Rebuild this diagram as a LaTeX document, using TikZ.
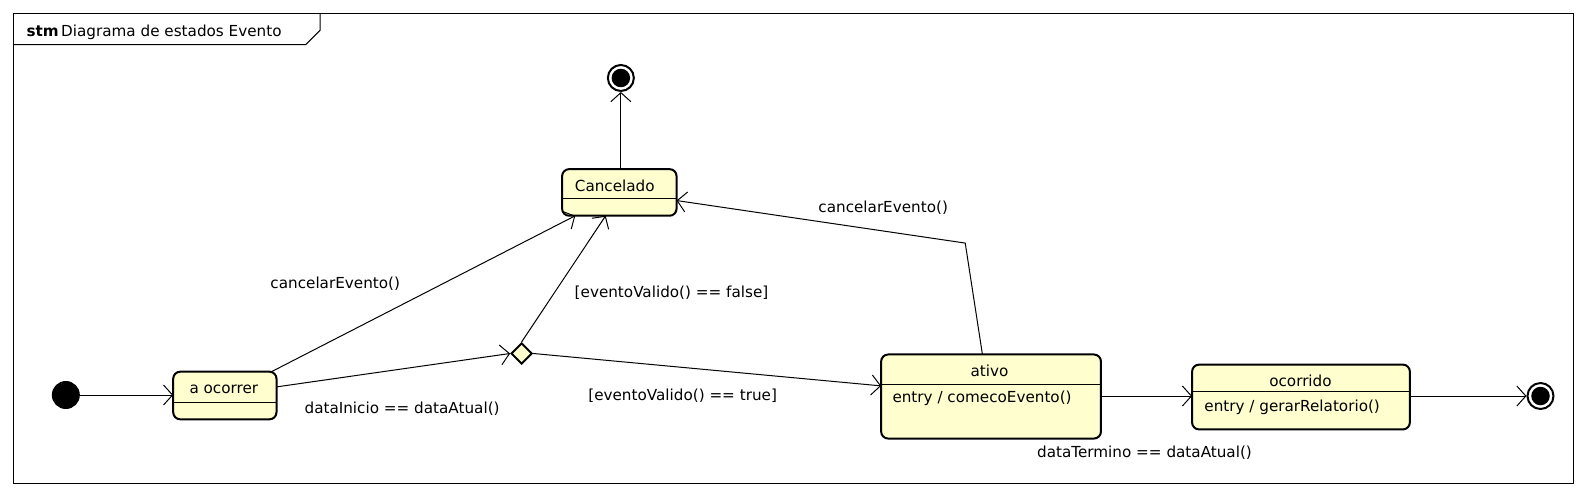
\documentclass[tikz,border=0pt]{standalone}
\usepackage{fontspec}
\setmainfont{DejaVu Sans}
\usetikzlibrary{arrows.meta,shapes.geometric,calc}
\definecolor{statefill}{HTML}{FEFECE}
\tikzset{
  stbox/.style={draw, line width=2pt, rounded corners=7pt, fill=statefill},
  tr/.style={line width=1pt, -{Straight Barb[length=9pt,width=20pt,line width=1pt]}},
  lbl/.style={font=\fontsize{15.2}{17}\selectfont, inner sep=0pt},
  txt/.style={font=\fontsize{15.2}{17}\selectfont, inner sep=0pt},
}
\begin{document}
\begin{tikzpicture}[x=1.0128pt,y=-1.0128pt]
\useasboundingbox (0,0) rectangle (1567.9,487.75);
% frame
\draw[line width=1pt] (13,13) rectangle (1554,477);
\draw[line width=1pt] (13,44) -- (302,44) -- (316,30) -- (316,13);
\node[txt, anchor=base west] (title) at (26,36) {\textbf{stm}\,Diagrama de estados Evento};

% initial
\node[circle, fill=black, minimum size=28pt, inner sep=0pt] (init) at (65,390) {};
% a ocorrer
\draw[stbox] (171,367) rectangle (273,414);
\draw[line width=1pt] (171,397) -- (273,397);
\node[txt] (aoc) at (221,384) {a ocorrer};
\coordinate (aocW) at (171,390);
% Cancelado
\draw[stbox] (555,167) rectangle (668,213);
\draw[line width=1pt] (555,196) -- (668,196);
\node[txt] (canc) at (607,183) {Cancelado};
% top final
\node[circle, draw, line width=2pt, minimum size=26pt, inner sep=0pt] (fin1) at (613,77) {};
\node[circle, fill=black, minimum size=18.5pt, inner sep=0pt] at (613,77) {};
% diamond
\node[diamond, draw, line width=2pt, fill=statefill, minimum size=21pt, inner sep=0pt] (dec) at (515,349) {};
% ativo
\draw[stbox] (870,350) rectangle (1087,433);
\draw[line width=1pt] (870,380) -- (1087,380);
\node[txt] (ativo) at (977,366) {ativo};
\node[txt, anchor=west] (ativoe) at (881,393) {entry / comecoEvento()};
% ocorrido
\draw[stbox] (1177,360) rectangle (1392,424);
\draw[line width=1pt] (1177,387) -- (1392,387);
\node[txt] (ocor) at (1284,376) {ocorrido};
\node[txt, anchor=west] (ocore) at (1189,402) {entry / gerarRelatorio()};
% final right
\node[circle, draw, line width=2pt, minimum size=26pt, inner sep=0pt] (fin2) at (1521,391) {};
\node[circle, fill=black, minimum size=18.5pt, inner sep=0pt] at (1521,391) {};

% coordinates for connector ends
\coordinate (aocTop) at (268,367);
\coordinate (aocE) at (273,382);
\coordinate (cancBL) at (568,213);
\coordinate (cancB) at (598,213);
\coordinate (cancT) at (613,167);
\coordinate (cancE) at (668,198);
\coordinate (ativoW) at (870,381);
\coordinate (ativoT) at (970,350);
\coordinate (bend) at (953,240);
\coordinate (ativoE) at (1087,391);
\coordinate (ocorW) at (1177,391);
\coordinate (ocorE) at (1392,391);

% transitions
\draw[tr] (init) -- (aocW);
\draw[tr] (aocTop) -- (cancBL);
\draw[tr] (aocE) -- (dec.west);
\draw[tr] (dec.north) -- (cancB);
\draw[tr] (dec.east) -- (ativoW);
\draw[tr] (ativoT) -- (bend) -- (cancE);
\draw[tr] (cancT) -- (fin1.south);
\draw[tr] (ativoE) -- (ocorW);
\draw[tr] (ocorE) -- (fin2.west);

% labels
\node[lbl] (l1) at (331,280) {cancelarEvento()};
\node[lbl] (l2) at (397,404) {dataInicio == dataAtual()};
\node[lbl] (l3) at (663,289) {[eventoValido() == false]};
\node[lbl] (l4) at (674,391) {[eventoValido() == true]};
\node[lbl] (l5) at (872,205) {cancelarEvento()};
\node[lbl] (l6) at (1130,447) {dataTermino == dataAtual()};
\end{tikzpicture}
\end{document}
